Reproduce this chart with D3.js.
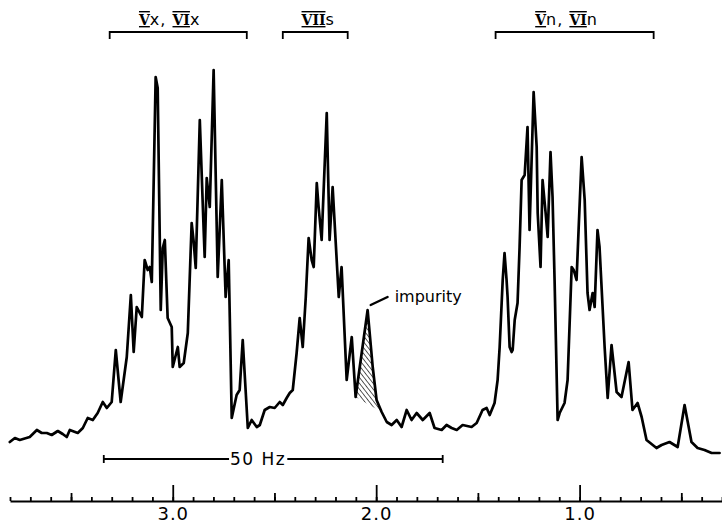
<!DOCTYPE html>
<html><head><meta charset="utf-8">
<script src="https://cdn.jsdelivr.net/npm/d3@7"></script>
<style>body{margin:0;background:#fff}svg{display:block}</style>
</head><body><svg id="c" width="722" height="525"></svg>
<script>
// chemical shift (ppm) of each trace point
const shift = [3.801,3.776,3.752,3.703,3.668,3.644,3.619,3.595,3.565,3.541,3.521,3.506,3.467,3.442,3.418,3.393,3.369,3.344,3.324,3.300,
3.280,3.256,3.226,3.206,3.192,3.177,3.152,3.138,3.123,3.113,3.103,3.084,3.074,3.059,3.049,3.039,3.025,3.005,3.000,2.975,
2.966,2.946,2.926,2.907,2.897,2.887,2.867,2.848,2.843,2.833,2.818,2.799,2.779,2.759,2.740,2.725,2.710,2.686,2.671,2.656,
2.631,2.612,2.587,2.572,2.548,2.523,2.499,2.474,2.459,2.440,2.425,2.410,2.391,2.376,2.361,2.346,2.332,2.317,2.307,2.292,
2.283,2.268,2.243,2.229,2.214,2.184,2.170,2.145,2.120,2.101,2.042,2.017,1.998,1.973,1.948,1.924,1.899,1.875,1.850,1.826,
1.801,1.771,1.737,1.713,1.678,1.654,1.629,1.604,1.575,1.531,1.506,1.477,1.457,1.442,1.418,1.403,1.393,1.378,1.369,1.359,
1.354,1.344,1.334,1.329,1.319,1.305,1.295,1.285,1.270,1.256,1.246,1.226,1.211,1.206,1.192,1.182,1.167,1.157,1.143,1.133,
1.123,1.108,1.098,1.074,1.059,1.039,1.029,1.015,1.005,0.990,0.975,0.961,0.951,0.936,0.926,0.912,0.902,0.877,0.862,0.843,
0.818,0.794,0.759,0.740,0.715,0.695,0.671,0.622,0.597,0.558,0.518,0.484,0.450,0.420,0.386,0.351,0.312];
// signal intensity (arbitrary units)
const intensity = [18,22,20,23,30,27,27,25,29,26,23,30,27,32,42,40,47,58,52,58,
110,58,103,165,108,153,143,200,190,193,178,383,372,150,212,220,142,133,93,113,
93,97,127,237,218,192,340,230,203,282,253,390,183,280,163,200,42,65,70,120,
32,40,33,35,50,53,52,58,55,62,67,70,107,142,113,163,222,200,193,277,
253,220,347,220,273,163,193,80,123,63,150,93,60,48,38,35,40,33,50,40,
47,40,47,32,30,35,32,30,35,33,37,50,52,45,57,80,113,180,207,180,
163,113,108,110,140,157,213,280,285,333,230,368,313,247,193,280,247,223,308,263,
180,40,47,57,80,193,190,180,230,303,260,167,150,167,153,230,213,113,62,115,
68,63,98,50,57,43,20,12,15,18,13,55,18,12,10,7,7];

const majorTicks = [3.0, 2.0, 1.0];
const halfTicks = [3.5, 2.5, 1.5, 0.5];
const minorTicks = d3.range(38, 2, -1).map(d => d / 10);

const groupLabels = [
  [{t:"V", r:true}, {t:"x"}, {t:", "}, {t:"VI", r:true}, {t:"x"}],
  [{t:"VII", r:true}, {t:"s"}],
  [{t:"V", r:true}, {t:"n"}, {t:", "}, {t:"VI", r:true}, {t:"n"}]
];
const groupFrom = [3.310, 2.459, 1.413];
const groupTo = [2.636, 2.140, 0.636];
const groupLabelAt = [3.015, 2.285, 1.064];

const scaleBarFrom = 3.339, scaleBarTo = 1.673, scaleBarLabel = "50 Hz", scaleBarLabelAt = 2.58;
const impurityFrom = 2.101, impurityTo = 1.973;
const impurityLabel = "impurity";
const impurityArrow = [[2.027, 155], [1.944, 163]];
const impurityLabelPos = [1.909, 158];

const svg = d3.select("#c");
const x = d3.scaleLinear().domain([3.8, 0.3]).range([10, 722]);
const y = d3.scaleLinear().domain([0, 400]).range([460, 60]);

const pts = shift.map((s, i) => [s, intensity[i]]);

// hatch pattern
const defs = svg.append("defs");
const pat = defs.append("pattern").attr("id", "hatch").attr("patternUnits", "userSpaceOnUse")
  .attr("width", 3.6).attr("height", 3.6).attr("patternTransform", "rotate(-38)");
pat.append("line").attr("x1", 0).attr("y1", 0).attr("x2", 0).attr("y2", 3.6)
  .attr("stroke", "#000").attr("stroke-width", 1.3);

const hatchPts = pts.filter(p => p[0] <= impurityFrom && p[0] >= impurityTo);
svg.append("path")
  .attr("d", d3.line().x(p => x(p[0])).y(p => y(p[1]))(hatchPts) + "Z")
  .attr("fill", "url(#hatch)").attr("stroke", "none");

// spectrum trace
svg.append("path")
  .attr("d", d3.line().x(p => x(p[0])).y(p => y(p[1]))(pts))
  .attr("fill", "none").attr("stroke", "#000").attr("stroke-width", 2.7)
  .attr("stroke-linejoin", "round").attr("stroke-linecap", "round");

// axis
const axisY = 501;
const gMinor = svg.append("g").attr("transform", `translate(0,${axisY})`)
  .call(d3.axisBottom(x).tickValues(minorTicks).tickSizeInner(-4).tickSizeOuter(0).tickFormat(""));
const gHalf = svg.append("g").attr("transform", `translate(0,${axisY})`)
  .call(d3.axisBottom(x).tickValues(halfTicks).tickSizeInner(-8).tickSizeOuter(0).tickFormat(""));
const gMajor = svg.append("g").attr("transform", `translate(0,${axisY})`)
  .call(d3.axisBottom(x).tickValues(majorTicks).tickSizeInner(-16).tickSizeOuter(0).tickPadding(6).tickFormat(d3.format(".1f")));
[gMinor, gHalf, gMajor].forEach(g => {
  g.selectAll("path.domain").attr("stroke", "#000").attr("stroke-width", 2);
  g.selectAll(".tick line").attr("stroke", "#000").attr("stroke-width", 1.8);
});
gMajor.selectAll(".tick text").attr("font-family", "DejaVu Sans, sans-serif").attr("font-size", 18)
  .attr("letter-spacing", 1).attr("fill", "#000");
gMinor.select("path.domain").remove(); gHalf.select("path.domain").remove();

// scale bar 50 Hz
const sbY = 459;
const sb = svg.append("g");
const sbText = svg.append("text").attr("x", x(scaleBarLabelAt)).attr("y", sbY + 6)
  .attr("text-anchor", "middle").attr("font-family", "DejaVu Sans, sans-serif")
  .attr("font-size", 17).attr("letter-spacing", 1.5).text(scaleBarLabel);
const bb = sbText.node().getBBox();
sb.append("line").attr("x1", x(scaleBarFrom)).attr("x2", bb.x - 1).attr("y1", sbY).attr("y2", sbY);
sb.append("line").attr("x1", bb.x + bb.width + 1).attr("x2", x(scaleBarTo)).attr("y1", sbY).attr("y2", sbY);
sb.append("line").attr("x1", x(scaleBarFrom)).attr("x2", x(scaleBarFrom)).attr("y1", sbY - 4).attr("y2", sbY + 4);
sb.append("line").attr("x1", x(scaleBarTo)).attr("x2", x(scaleBarTo)).attr("y1", sbY - 4).attr("y2", sbY + 4);
sb.selectAll("line").attr("stroke", "#000").attr("stroke-width", 1.8);

// impurity label and arrow
svg.append("line")
  .attr("x1", x(impurityArrow[0][0])).attr("y1", y(impurityArrow[0][1]))
  .attr("x2", x(impurityArrow[1][0])).attr("y2", y(impurityArrow[1][1]))
  .attr("stroke", "#000").attr("stroke-width", 2.4).attr("stroke-linecap", "round");
svg.append("text").attr("x", x(impurityLabelPos[0])).attr("y", y(impurityLabelPos[1]))
  .attr("font-family", "DejaVu Sans, sans-serif").attr("font-size", 16).text(impurityLabel);

// group brackets
const brY = 32;
groupFrom.forEach((f, i) => {
  const x1 = x(f), x2 = x(groupTo[i]);
  svg.append("path").attr("d", `M${x1},${brY + 7}V${brY}H${x2}V${brY + 7}`)
    .attr("fill", "none").attr("stroke", "#000").attr("stroke-width", 1.8);
  const t = svg.append("text").attr("x", x(groupLabelAt[i])).attr("y", 25)
    .attr("text-anchor", "middle").attr("font-size", 16);
  groupLabels[i].forEach(p => {
    const ts = t.append("tspan").text(p.t);
    if (p.r) ts.attr("font-family", "DejaVu Serif, serif").attr("font-weight", "bold")
      .attr("font-size", 14).attr("text-decoration", "underline overline");
    else ts.attr("font-family", "DejaVu Sans, sans-serif").attr("letter-spacing", 1);
  });
});
</script></body></html>
